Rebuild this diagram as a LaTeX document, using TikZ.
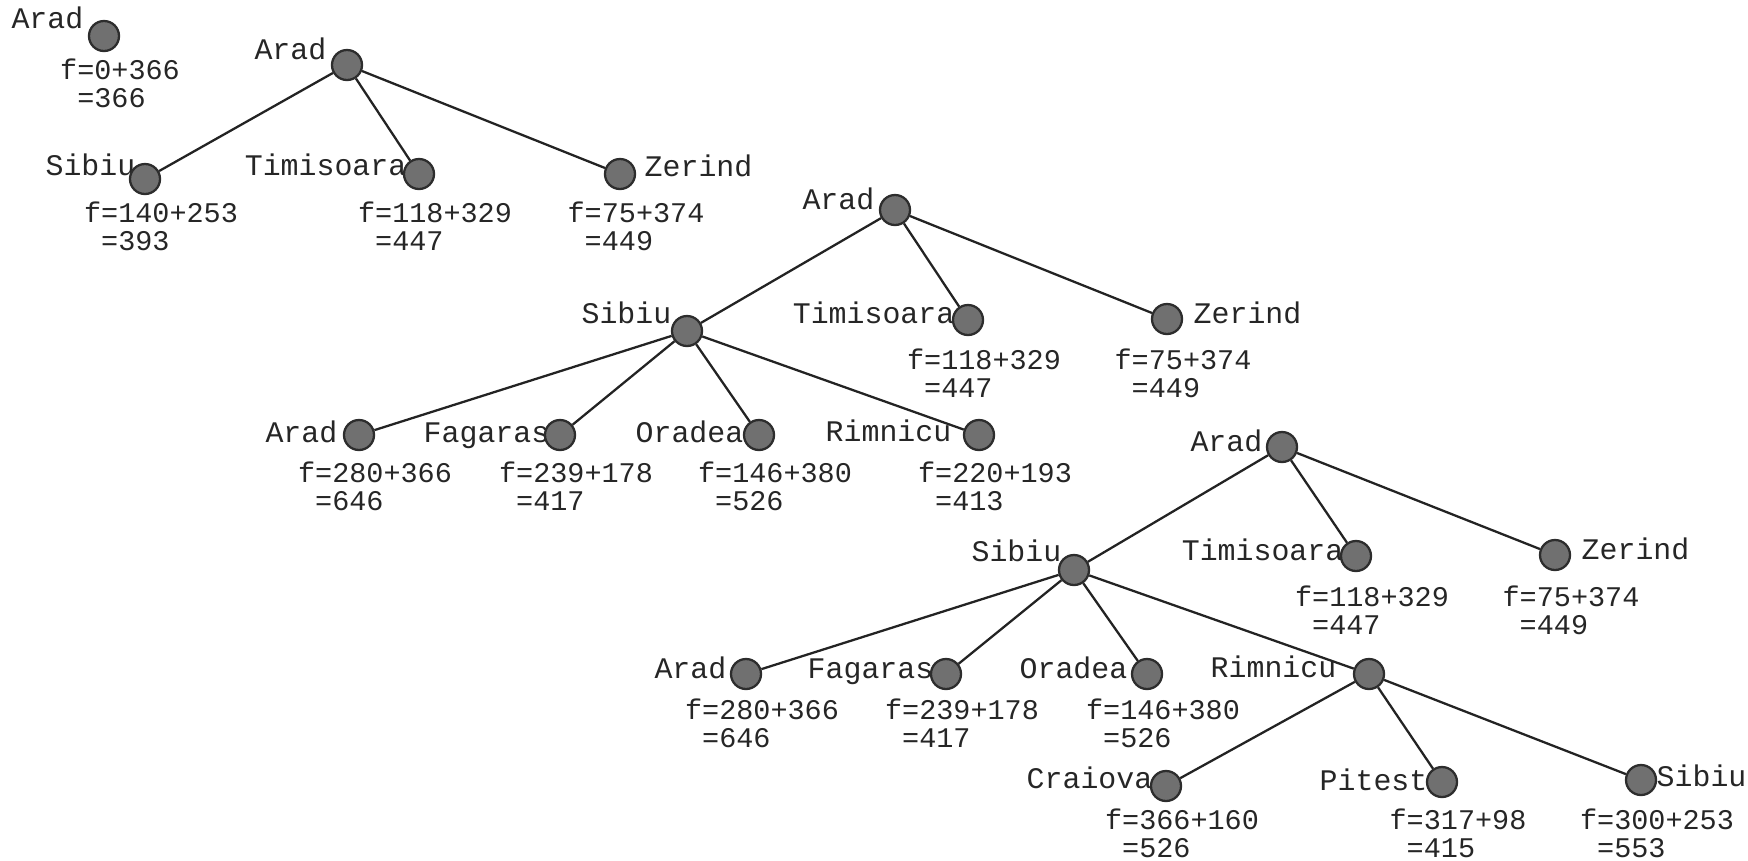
\documentclass[tikz,border=0pt]{standalone}
\usepackage{fontspec}
\setmonofont{Liberation Mono}
\usetikzlibrary{positioning,calc,backgrounds}
\definecolor{nodegray}{RGB}{112,112,112}
\definecolor{rimgray}{RGB}{45,45,45}
\definecolor{edgegray}{RGB}{35,35,35}

\begin{document}
\begin{tikzpicture}[x=0.01cm,y=-0.01cm,font=\ttfamily\fontsize{8.1}{7.95}\selectfont,
    city/.style={circle,draw=rimgray,fill=nodegray,line width=0.65pt,minimum size=0.30cm,inner sep=0pt},
    nm/.style={inner sep=0pt,anchor=base east,text=black!85,font=\ttfamily\fontsize{8.5}{8.5}\selectfont},
    nmr/.style={nm,anchor=base west},
    fv/.style={inner sep=0pt,align=left,anchor=north,xshift=0.16cm,text=black!85},
    edge/.style={draw=edgegray,line width=0.65pt}]
  \useasboundingbox (0,0) rectangle (1748,860);
  % step 0: start
  \node[city] (a0) at (104,36) {};
  % step 1: expand Arad
  \node[city] (a1) at (347,65) {};
  \node[city] (s1) at (145,179) {};
  \node[city] (t1) at (419,174) {};
  \node[city] (z1) at (620,174) {};
  % step 2: expand Sibiu
  \node[city] (a2) at (895,210) {};
  \node[city] (s2) at (687,331) {};
  \node[city] (t2) at (968,320) {};
  \node[city] (z2) at (1167,319) {};
  \node[city] (ar2) at (359,435) {};
  \node[city] (fa2) at (560,435) {};
  \node[city] (or2) at (759,435) {};
  \node[city] (ri2) at (979,435) {};
  % step 3: expand Rimnicu
  \node[city] (a3) at (1282,447) {};
  \node[city] (s3) at (1074,570) {};
  \node[city] (t3) at (1356,556) {};
  \node[city] (z3) at (1555,555) {};
  \node[city] (ar3) at (746,674) {};
  \node[city] (fa3) at (946,674) {};
  \node[city] (or3) at (1147,674) {};
  \node[city] (ri3) at (1369,674) {};
  \node[city] (cr3) at (1166,786) {};
  \node[city] (pi3) at (1442,782) {};
  \node[city] (si3) at (1641,780) {};
  % tree edges
  \foreach \p/\c in {a1/s1,a1/t1,a1/z1,a2/s2,a2/t2,a2/z2,s2/ar2,s2/fa2,s2/or2,s2/ri2,
      a3/s3,a3/t3,a3/z3,s3/ar3,s3/fa3,s3/or3,s3/ri3,ri3/cr3,ri3/pi3,ri3/si3}
    \draw[edge] (\p) -- (\c);
  % city names, partly hidden by the circles
  \begin{pgfonlayer}{background}
    \foreach \n/\t/\dx/\dy in {a0/Arad/-20/-8,a1/Arad/-20/-6,s1/Sibiu/-9/-4,t1/Timisoara/-12/1,
        a2/Arad/-20/-1,s2/Sibiu/-15/-8,t2/Timisoara/-13/3,ar2/Arad/-21/7,fa2/Fagaras/-10/7,
        or2/Oradea/-15/7,ri2/Rimnicu/-27/6,a3/Arad/-19/4,s3/Sibiu/-12/-9,t3/Timisoara/-12/4,
        ar3/Arad/-19/4,fa3/Fagaras/-12/4,or3/Oradea/-19/4,ri3/Rimnicu/-32/3,cr3/Craiova/-13/2,
        pi3/Pitesti/4/8}
      \node[nm] (\n-l) at ($(\n)+(\dx,\dy)$) {\t};
    \foreach \n/\t/\dx/\dy in {z1/Zerind/24/2,z2/Zerind/26/4,z3/Zerind/26/4,si3/Sibiu/15/6}
      \node[nmr] (\n-l) at ($(\n)+(\dx,\dy)$) {\t};
  \end{pgfonlayer}
  % f = g + h
  \foreach \n/\y/\g/\h in {a0/58/0+366/366,s1/201/140+253/393,t1/201/118+329/447,z1/201/75+374/449,
      t2/348/118+329/447,z2/348/75+374/449,ar2/461/280+366/646,fa2/461/239+178/417,
      or2/461/146+380/526,ri2/461/220+193/413,t3/585/118+329/447,z3/585/75+374/449,
      ar3/698/280+366/646,fa3/698/239+178/417,or3/698/146+380/526,cr3/808/366+160/526,
      pi3/808/317+98/415,si3/808/300+253/553}
    \node[fv] (\n-f) at (\n |- 0,\y) {f=\g\\\hphantom{f}=\h};
\end{tikzpicture}
\end{document}
